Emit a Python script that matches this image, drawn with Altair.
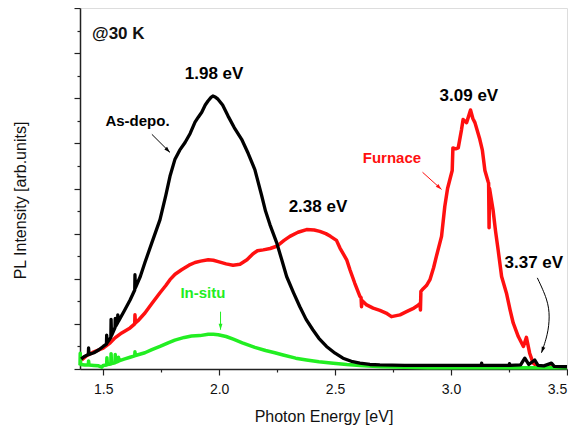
import altair as alt
import pandas as pd

# ---- series (x = photon energy [eV], y = PL intensity [arb.]) ----
black_x = [1.405, 1.417, 1.436, 1.437, 1.439, 1.46, 1.48, 1.50, 1.514, 1.515, 1.517,
           1.533, 1.534, 1.536, 1.551, 1.552, 1.554, 1.562, 1.563, 1.565, 1.59, 1.616,
           1.636, 1.637, 1.639, 1.66, 1.68, 1.71, 1.745, 1.77, 1.788, 1.809, 1.83, 1.853,
           1.875, 1.896, 1.91, 1.925, 1.94, 1.952, 1.965, 1.973, 1.985, 1.995, 2.015,
           2.038, 2.065, 2.097, 2.125, 2.154, 2.183, 2.20, 2.219, 2.248, 2.27, 2.291,
           2.32, 2.348, 2.375, 2.404, 2.43, 2.463, 2.50, 2.534, 2.57, 2.607, 2.65, 2.693,
           2.8, 2.9, 3.0, 3.13, 3.132, 3.134, 3.2, 3.25, 3.252, 3.254, 3.30, 3.318, 3.335,
           3.361, 3.375, 3.40, 3.433, 3.445, 3.50]
black_y = [0.22, 0.27, 0.32, 0.47, 0.32, 0.36, 0.42, 0.50, 0.55, 0.75, 0.58,
           0.70, 1.10, 0.74, 0.92, 1.12, 0.95, 1.02, 1.20, 1.05, 1.28, 1.53,
           1.75, 2.09, 1.80, 2.05, 2.36, 2.80, 3.31, 3.85, 4.27, 4.64, 4.85, 5.02,
           5.22, 5.47, 5.58, 5.69, 5.85, 5.94, 6.02, 6.05, 6.02, 5.98, 5.85,
           5.61, 5.35, 5.09, 4.78, 4.42, 3.85, 3.50, 3.20, 2.80, 2.42, 2.05,
           1.70, 1.38, 1.10, 0.87, 0.68, 0.50, 0.35, 0.24, 0.17, 0.13, 0.10, 0.09,
           0.08, 0.08, 0.08, 0.08, 0.13, 0.08, 0.08, 0.08, 0.12, 0.08, 0.09, 0.24, 0.10,
           0.20, 0.08, 0.07, 0.13, 0.06, 0.05]

red_x = [1.407, 1.43, 1.46, 1.50, 1.53, 1.551, 1.58, 1.616, 1.636, 1.637, 1.639, 1.65,
         1.68, 1.71, 1.745, 1.77, 1.788, 1.81, 1.838, 1.87, 1.896, 1.92, 1.953, 1.975,
         1.996, 2.03, 2.06, 2.09, 2.12, 2.145, 2.165, 2.19, 2.22, 2.248, 2.28, 2.305,
         2.34, 2.377, 2.41, 2.434, 2.46, 2.48, 2.506, 2.521, 2.55, 2.564, 2.585, 2.607,
         2.612, 2.614, 2.616, 2.636, 2.664, 2.693, 2.72, 2.743, 2.78, 2.808, 2.84, 2.855,
         2.866, 2.868, 2.870, 2.880, 2.894, 2.909, 2.925, 2.937, 2.959, 2.973, 2.985,
         2.995, 3.005, 3.008, 3.02, 3.031, 3.045, 3.052, 3.067, 3.077, 3.084, 3.094,
         3.103, 3.124, 3.135, 3.146, 3.16, 3.162, 3.164, 3.166, 3.181, 3.192, 3.203,
         3.218, 3.239, 3.255, 3.268, 3.29, 3.312, 3.325, 3.339, 3.354, 3.37, 3.397,
         3.45, 3.50]
red_y = [0.20, 0.30, 0.38, 0.46, 0.58, 0.69, 0.80, 0.91, 1.00, 1.20, 1.02, 1.07,
         1.24, 1.45, 1.69, 1.85, 1.98, 2.10, 2.20, 2.30, 2.36, 2.39, 2.42, 2.41,
         2.38, 2.33, 2.30, 2.32, 2.42, 2.55, 2.62, 2.64, 2.67, 2.72, 2.85, 2.94,
         3.03, 3.09, 3.08, 3.05, 3.00, 2.94, 2.85, 2.68, 2.42, 2.20, 1.90, 1.61,
         1.58, 1.38, 1.52, 1.42, 1.35, 1.30, 1.24, 1.16, 1.20, 1.27, 1.35, 1.40,
         1.45, 1.31, 1.72, 1.78, 1.85, 1.98, 2.25, 2.50, 2.94, 3.60, 4.00,
         4.20, 4.40, 4.90, 4.88, 4.90, 5.30, 5.53, 5.46, 5.62, 5.74, 5.55,
         5.46, 5.09, 4.85, 4.40, 4.15, 4.12, 3.13, 4.00, 3.53, 3.05, 2.64,
         2.05, 1.68, 1.30, 1.02, 0.72, 0.50, 0.70, 0.35, 0.13, 0.07, 0.05,
         0.04, 0.04]

green_x = [1.400, 1.401, 1.403, 1.42, 1.436, 1.437, 1.439, 1.46, 1.48, 1.494, 1.50,
           1.515, 1.516, 1.518, 1.533, 1.534, 1.536, 1.551, 1.552, 1.554, 1.565, 1.566,
           1.568, 1.59, 1.616, 1.636, 1.637, 1.639, 1.68, 1.71, 1.745, 1.78, 1.809, 1.85,
           1.881, 1.917, 1.953, 1.975, 1.996, 2.03, 2.061, 2.1, 2.154, 2.2, 2.24, 2.276,
           2.33, 2.377, 2.43, 2.492, 2.55, 2.607, 2.7, 2.9, 3.2, 3.5]
green_y = [0.08, 0.35, 0.10, 0.09, 0.09, 0.18, 0.09, 0.08, 0.07, 0.04, 0.08,
           0.09, 0.25, 0.10, 0.11, 0.34, 0.12, 0.14, 0.32, 0.15, 0.17, 0.26,
           0.18, 0.22, 0.26, 0.29, 0.38, 0.30, 0.36, 0.43, 0.50, 0.58, 0.64, 0.70,
           0.73, 0.74, 0.77, 0.77, 0.76, 0.72, 0.66, 0.58, 0.48, 0.41, 0.36, 0.31,
           0.24, 0.20, 0.16, 0.13, 0.10, 0.08, 0.05, 0.03, 0.03, 0.03]

# ---- annotations ----
label_text = ["@30 K", "1.98 eV", "3.09 eV", "2.38 eV", "3.37 eV", "As-depo.", "Furnace", "In-situ"]
label_x = [1.452, 1.978, 3.077, 2.426, 3.357, 1.648, 2.745, 1.930]
label_y = [7.43, 6.53, 6.04, 3.60, 2.36, 5.49, 4.67, 1.69]
label_size = [17, 17, 17, 17, 17, 15, 15, 15]
label_color = ["black", "black", "black", "black", "black", "black", "red", "green"]
label_align = ["left", "center", "center", "center", "center", "center", "center", "center"]

arrow_id = ["as", "as", "fu", "fu", "in", "in", "h", "h", "h", "h", "h"]
arrow_x = [1.710, 1.788, 2.877, 2.959, 2.006, 2.006, 3.372, 3.417, 3.426, 3.417, 3.390]
arrow_y = [5.20, 4.80, 4.36, 3.98, 1.27, 0.87, 2.02, 1.53, 1.16, 0.76, 0.36]
head_id = ["as", "fu", "in", "h"]
head_x = [1.788, 2.959, 2.006, 3.390]
head_y = [4.80, 3.98, 0.87, 0.36]
head_angle = [135, 132, 180, 200]

x_major = [1.5, 2.0, 2.5, 3.0, 3.5]
x_minor = [1.75, 2.25, 2.75, 3.25]
y_major = [0, 1, 2, 3, 4, 5, 6, 7, 8]
y_minor = [0.5, 1.5, 2.5, 3.5, 4.5, 5.5, 6.5, 7.5]

RED = "#ff1010"
GREEN = "#22ee22"
FONT = "Liberation Sans"

black = pd.DataFrame({"x": black_x, "y": black_y})
red = pd.DataFrame({"x": red_x, "y": red_y})
green = pd.DataFrame({"x": green_x, "y": green_y})
labels = pd.DataFrame({"t": label_text, "x": label_x, "y": label_y, "s": label_size,
                       "c": label_color, "a": label_align})
arrows = pd.DataFrame({"id": arrow_id, "x": arrow_x, "y": arrow_y,
                       "o": list(range(len(arrow_x)))})
heads = pd.DataFrame({"id": head_id, "x": head_x, "y": head_y, "ang": head_angle})

xs = alt.Scale(domain=[1.4, 3.5], nice=False, zero=False)
ys = alt.Scale(domain=[0, 8], nice=False, zero=False)
arrow_colors = alt.Scale(domain=["as", "fu", "in", "h"], range=["black", RED, GREEN, "black"])


def X(axis=None):
    return alt.X("x:Q", scale=xs, axis=axis)


def Y(axis=None):
    return alt.Y("y:Q", scale=ys, axis=axis)


def line(df, color, w):
    return alt.Chart(df).mark_line(color=color, strokeWidth=w, strokeJoin="round").encode(x=X(), y=Y())


major_axes = alt.Chart(green).mark_point(opacity=0).encode(
    x=X(alt.Axis(values=x_major, format=".1f", orient="bottom", tickSize=6, tickWidth=1.2,
                 tickColor="#222", domainColor="#222", domainWidth=1.5,
                 labelFontSize=14, labelFont=FONT, labelColor="#111",
                 labelBaseline="alphabetic", labelPadding=18, labelFlush=False,
                 labelOffset={"condition": {"test": "datum.value >= 3.49", "value": -10}, "value": 0},
                 grid=False, title="Photon Energy [eV]", titleFont=FONT, titleFontSize=16,
                 titleFontWeight="normal", titleColor="#111", titleBaseline="alphabetic",
                 titleY=52)),
    y=Y(alt.Axis(values=y_major, orient="left", labels=False, tickSize=6, tickWidth=1.2,
                 tickColor="#222", domainColor="#222", domainWidth=1.5, grid=False,
                 title="PL Intensity [arb.units]", titleFont=FONT, titleFontSize=16,
                 titleFontWeight="normal", titleColor="#111", titleBaseline="alphabetic",
                 titleX=-55, titleY=192)),
)
minor_axes = alt.Chart(green).mark_point(opacity=0).encode(
    x=X(alt.Axis(values=x_minor, orient="bottom", labels=False, tickSize=3, tickWidth=1.2,
                 tickColor="#222", domain=False, grid=False, title=None)),
    y=Y(alt.Axis(values=y_minor, orient="left", labels=False, tickSize=3, tickWidth=1.2,
                 tickColor="#222", domain=False, grid=False, title=None)),
)

text_center = alt.Chart(labels).transform_filter(alt.datum.a == "center").mark_text(
    font=FONT, fontWeight="bold", baseline="middle"
).encode(
    x=X(), y=Y(), text="t:N",
    size=alt.Size("s:Q", scale=None, legend=None),
    color=alt.Color("c:N", scale=alt.Scale(domain=["black", "red", "green"],
                                           range=["#111111", RED, GREEN]), legend=None),
)
text_left = alt.Chart(labels).transform_filter(alt.datum.a == "left").mark_text(
    font=FONT, fontWeight="bold", baseline="middle", align="left", fontSize=17, color="#111111"
).encode(x=X(), y=Y(), text="t:N")

arrow_lines = alt.Chart(arrows).mark_line(strokeWidth=1, interpolate="basis").encode(
    x=X(), y=Y(), detail="id:N", order="o:Q",
    color=alt.Color("id:N", scale=arrow_colors, legend=None),
)
arrow_heads = alt.Chart(heads).mark_point(
    shape="M0,0L-0.7,2.2L0.7,2.2Z", filled=True, size=30, opacity=1, strokeWidth=0
).encode(
    x=X(), y=Y(), angle=alt.Angle("ang:Q", scale=None),
    color=alt.Color("id:N", scale=arrow_colors, legend=None),
)

chart = alt.layer(
    major_axes, minor_axes,
    line(red, RED, 3.5), line(green, GREEN, 3.5), line(black, "black", 3.3),
    arrow_lines, arrow_heads, text_left, text_center,
).resolve_axis(x="independent", y="independent").properties(
    width=487, height=361,
    autosize=alt.AutoSizeParams(type="none"),
    padding={"left": 72, "top": 0, "right": 1, "bottom": 58},
).configure_view(stroke="#777777", strokeWidth=1.5).configure(background="white")

chart.save("out.html", embed_options={"renderer": "svg", "actions": False})
